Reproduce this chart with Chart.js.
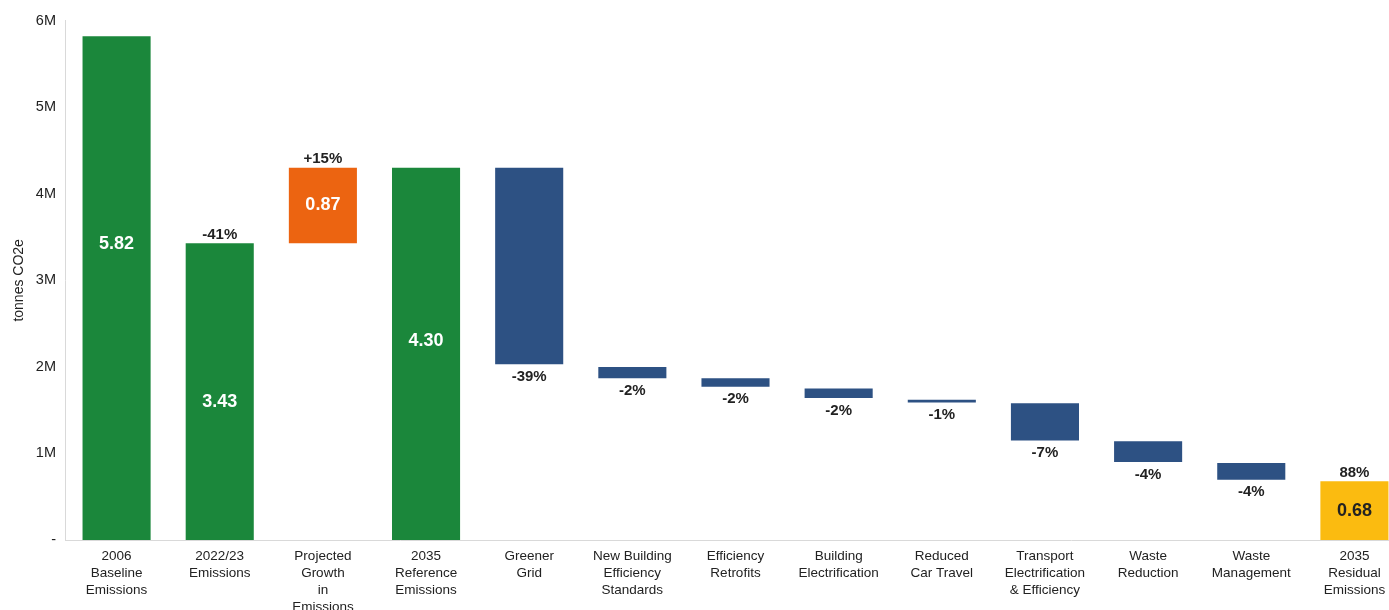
<!DOCTYPE html>
<html>
<head>
<meta charset="utf-8">
<script src="https://cdn.jsdelivr.net/npm/chart.js@4/dist/chart.umd.min.js"></script>
<style>
  html, body { margin: 0; padding: 0; background: #fff; overflow: hidden; }
  #wrap { width: 1406px; height: 610px; position: relative; }
  #c { position: absolute; left: 0; top: 3px; }
</style>
</head>
<body>
<div id="wrap"><canvas id="c" width="1406" height="607"></canvas></div>
<script>
// ---- data (millions of tonnes CO2e) ----
const categories = [
  ["2006", "Baseline", "Emissions"],
  ["2022/23", "Emissions"],
  ["Projected", "Growth", "in", "Emissions"],
  ["2035", "Reference", "Emissions"],
  ["Greener", "Grid"],
  ["New Building", "Efficiency", "Standards"],
  ["Efficiency", "Retrofits"],
  ["Building", "Electrification"],
  ["Reduced", "Car Travel"],
  ["Transport", "Electrification", "& Efficiency"],
  ["Waste", "Reduction"],
  ["Waste", "Management"],
  ["2035", "Residual", "Emissions"]
];
const barStart = [0, 0, 3.43, 0, 4.30, 2.00, 1.87, 1.75, 1.62, 1.58, 1.14, 0.89, 0];
const barEnd   = [5.82, 3.43, 4.30, 4.30, 2.03, 1.87, 1.77, 1.64, 1.59, 1.15, 0.90, 0.695, 0.68];
const barKind  = ["total", "total", "increase", "total", "decrease", "decrease", "decrease",
                  "decrease", "decrease", "decrease", "decrease", "decrease", "residual"];
const valueLabels = ["5.82", "3.43", "0.87", "4.30", "", "", "", "", "", "", "", "", "0.68"];
const valueLabelAt = [3.42, 1.59, 3.87, 2.30, null, null, null, null, null, null, null, null, 0.34];
const percentLabels = ["", "-41%", "+15%", "", "-39%", "-2%", "-2%", "-2%", "-1%", "-7%", "-4%", "-4%", "88%"];
const yTicks = [0, 1, 2, 3, 4, 5, 6];
const yTickLabels = ["-", "1M", "2M", "3M", "4M", "5M", "6M"];

const kindColor = { total: "#1B873B", increase: "#EC6411", decrease: "#2D5183", residual: "#FBBB10" };

const labelPlugin = {
  id: "wfLabels",
  afterDatasetsDraw(chart) {
    const ctx = chart.ctx;
    const meta = chart.getDatasetMeta(0);
    const y = chart.scales.y;
    ctx.save();
    ctx.textAlign = "center";
    meta.data.forEach((bar, i) => {
      const top = y.getPixelForValue(Math.max(barStart[i], barEnd[i]));
      const bottom = y.getPixelForValue(Math.min(barStart[i], barEnd[i]));
      if (valueLabels[i]) {
        ctx.font = "bold 18px 'Liberation Sans', Arial, sans-serif";
        ctx.fillStyle = barKind[i] === "residual" ? "#222222" : "#ffffff";
        ctx.textBaseline = "middle";
        ctx.fillText(valueLabels[i], bar.x, y.getPixelForValue(valueLabelAt[i]));
      }
      if (percentLabels[i]) {
        ctx.font = "bold 15px 'Liberation Sans', Arial, sans-serif";
        ctx.fillStyle = "#222222";
        if (barKind[i] === "decrease") {
          ctx.textBaseline = "top";
          ctx.fillText(percentLabels[i], bar.x, bottom + 5);
        } else {
          ctx.textBaseline = "bottom";
          ctx.fillText(percentLabels[i], bar.x, top - 1);
        }
      }
    });
    ctx.restore();
  }
};

new Chart(document.getElementById("c"), {
  type: "bar",
  data: {
    labels: categories,
    datasets: [{
      data: barStart.map((s, i) => [s, barEnd[i]]),
      backgroundColor: barKind.map(k => kindColor[k]),
      borderWidth: 0,
      barPercentage: 0.66,
      categoryPercentage: 1.0
    }]
  },
  options: {
    responsive: false,
    animation: false,
    layout: { padding: { top: 16, right: 0, bottom: 0, left: 0 } },
    plugins: { legend: { display: false }, tooltip: { enabled: false } },
    scales: {
      x: {
        grid: { display: false, drawTicks: false },
        border: { color: "#d9d9d9", width: 1 },
        ticks: {
          color: "#222222",
          font: { family: "'Liberation Sans', Arial, sans-serif", size: 13.5, lineHeight: 1.25 },
          maxRotation: 0, autoSkip: false, padding: 8
        },
        afterFit(s) { s.height = 70; }
      },
      y: {
        min: 0, max: 6,
        grid: { display: false, drawTicks: false },
        border: { color: "#d9d9d9", width: 1 },
        afterBuildTicks(s) { s.ticks = yTicks.map(v => ({ value: v })); },
        ticks: {
          color: "#222222",
          font: { family: "'Liberation Sans', Arial, sans-serif", size: 14.5 },
          padding: 9,
          callback: (v) => yTickLabels[yTicks.indexOf(v)]
        },
        title: {
          display: true, text: "tonnes CO2e", color: "#222222",
          font: { family: "'Liberation Sans', Arial, sans-serif", size: 14 },
          padding: { top: 11, bottom: 4 }
        },
        afterFit(s) { s.width = 65; }
      }
    }
  },
  plugins: [labelPlugin]
});
</script>
</body>
</html>
